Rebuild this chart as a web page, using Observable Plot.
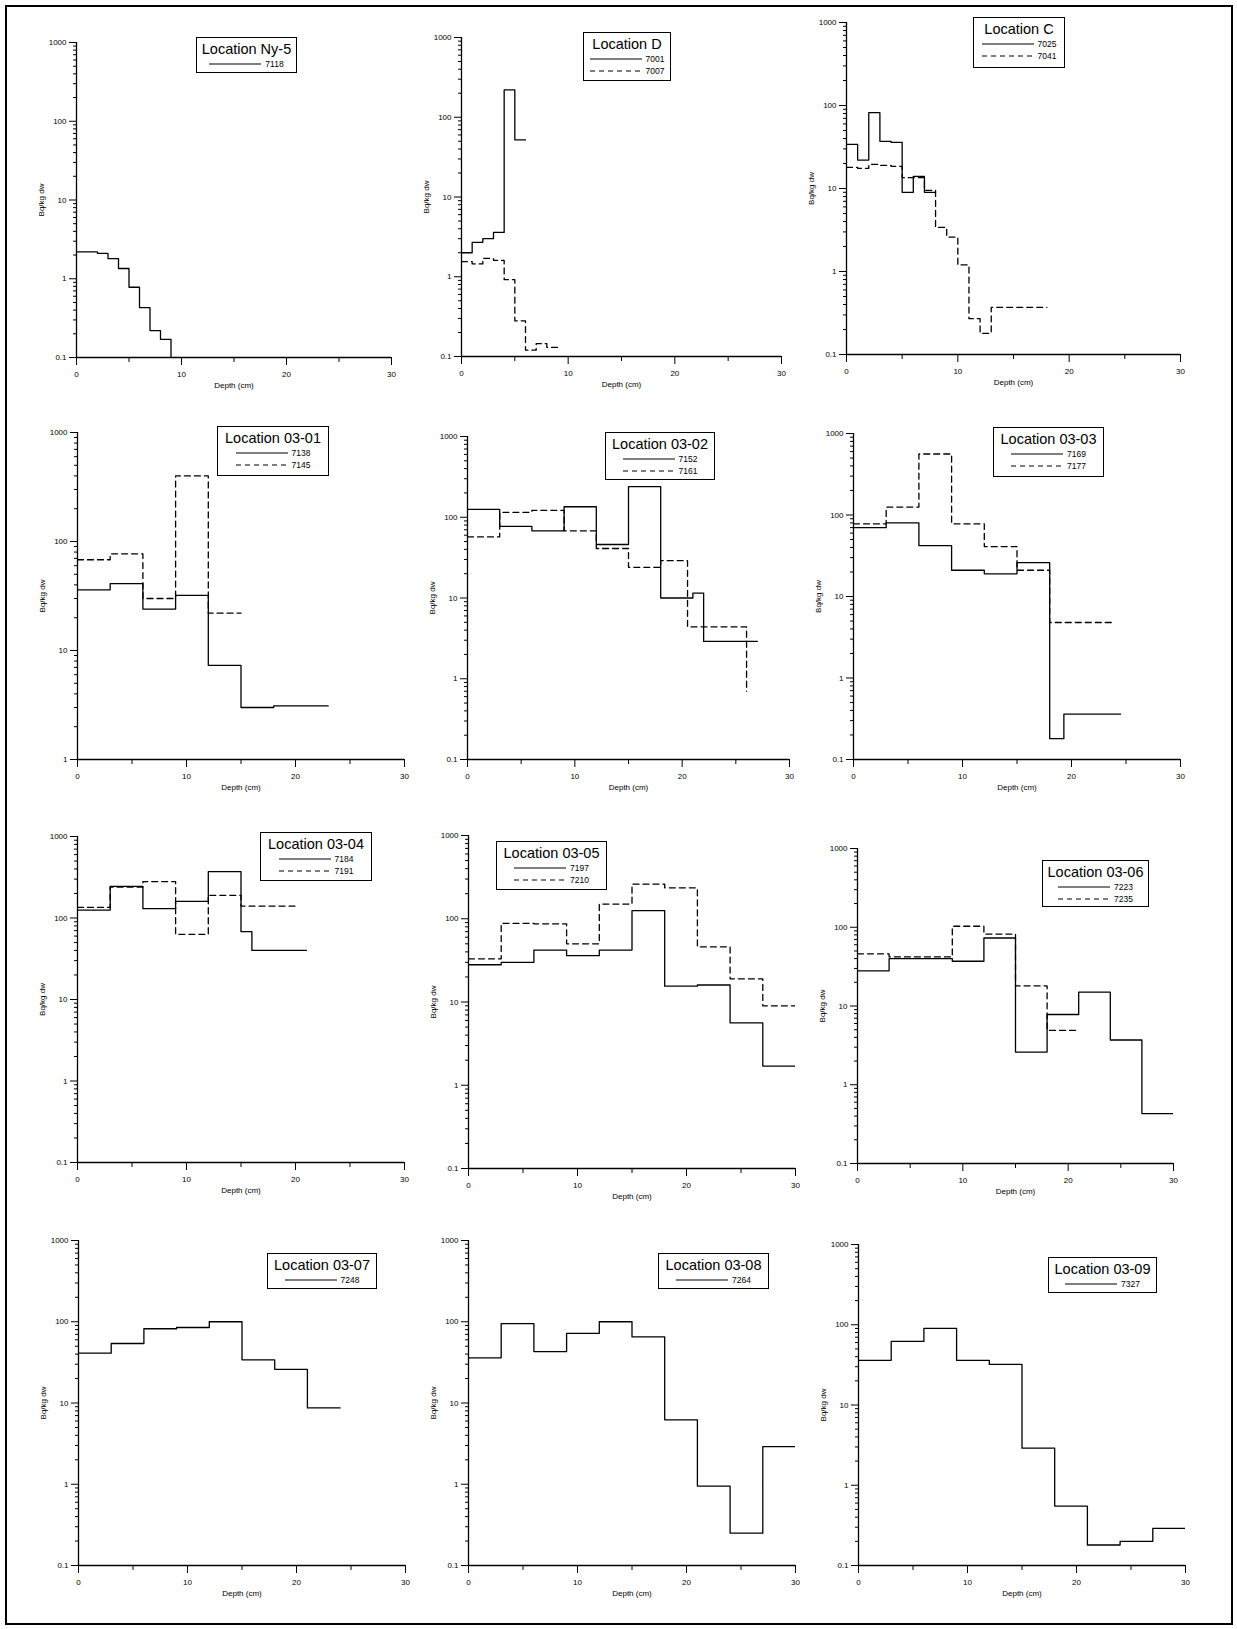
<!DOCTYPE html>
<html><head><meta charset="utf-8">
<script src="https://cdn.jsdelivr.net/npm/d3@7"></script>
<script src="https://cdn.jsdelivr.net/npm/@observablehq/plot@0.6"></script>
<style>
body{margin:0;background:#fff;font-family:"Liberation Sans",Arial,sans-serif;}
#wrap{position:relative;width:1237px;height:1629px;}
#frame{position:absolute;left:5px;top:5px;width:1224px;height:1616px;border:2px solid #000;}
.pn{position:absolute;}
.lg{position:absolute;border:1.3px solid #000;background:#fff;font-family:"Liberation Sans",Arial,sans-serif;padding:3px 2px;box-sizing:border-box;white-space:nowrap;overflow:visible;}
.lg .t{font-size:14.5px;text-align:center;line-height:17px;white-space:nowrap;}
.lg .r{font-size:8.5px;line-height:12px;display:flex;align-items:center;justify-content:center;gap:4px;}
</style></head><body>
<div id="wrap"><div id="frame"></div></div>
<script>
// ---- data: interval edges (cm) and values (Bq/kg dw) ----
const d7118 = [0,1,2,3,4,5,6,7,8,9];
const v7118 = [2.2,2.2,2.1,1.8,1.35,0.78,0.43,0.22,0.17,0.05];
const d7001 = [0,1,2,3,4,5,6];
const v7001 = [2.0,2.7,3.0,3.6,220,52];
const d7007 = [0,1,2,3,4,5,6,7,8,9];
const v7007 = [1.55,1.45,1.7,1.6,0.92,0.28,0.12,0.145,0.13];
const d7025 = [0,1,2,3,4,5,6,7,8];
const v7025 = [34,22,82,37,36,9,14,9];
const d7041 = [0,1,2,3,4,5,6,7,8,9,10,11,12,13,18];
const v7041 = [18,17.5,19.5,19,18.5,13.5,13.5,9.5,3.4,2.6,1.2,0.27,0.18,0.37];
const d7138 = [0,3,6,9,12,15,18,23];
const v7138 = [36,41,24,32,7.3,3.0,3.1];
const d7145 = [0,3,6,9,12,15];
const v7145 = [68,77,30,400,22];
const d7152 = [0,3,6,9,12,15,18,21,22,27];
const v7152 = [125,77,68,135,46,240,10,11.5,2.9];
const d7161 = [0,3,6,9,12,15,18,20.5,26];
const v7161 = [57,115,122,68,41,24,29,4.4,0.7];
const d7169 = [0,3,6,9,12,15,18,19.3,24.5];
const v7169 = [70,80,42,21,19,26,0.18,0.36];
const d7177 = [0,3,6,9,12,15,18,23.8];
const v7177 = [78,125,560,78,41,21,4.8];
const d7184 = [0,3,6,9,12,15,16,21];
const v7184 = [125,245,130,160,370,68,40];
const d7191 = [0,3,6,9,12,15,20];
const v7191 = [135,240,280,63,190,140];
const d7197 = [0,3,6,9,12,15,18,21,24,27,30];
const v7197 = [28,30,42,36,42,125,15.5,16,5.6,1.7];
const d7210 = [0,3,6,9,12,15,18,21,24,27,30];
const v7210 = [33,88,87,50,150,260,235,46,19,9];
const d7223 = [0,3,6,9,12,15,18,21,24,27,30];
const v7223 = [28,40,40,37,73,2.6,7.8,15,3.7,0.43];
const d7235 = [0,3,6,9,12,15,18,21];
const v7235 = [46,42,42,103,82,18,4.9];
const d7248 = [0,3,6,9,12,15,18,21,24];
const v7248 = [41,54,82,85,100,34,26,8.7];
const d7264 = [0,3,6,9,12,15,18,21,24,27,30];
const v7264 = [36,95,43,72,100,65,6.2,0.95,0.25,2.9];
const d7327 = [0,3,6,9,12,15,18,21,24,27,30];
const v7327 = [36,62,90,36,32,2.9,0.55,0.18,0.2,0.29];
const xTicksMajor = [0,10,20,30];
const xTicksMinor = [5,15,25];

// ---- panel layout: axis box [x0,x1,yTop,yBottom], legend [left,top,w,h] ----
const panels = [
 {title:"Location Ny-5", s:[["7118",d7118,v7118,false]], box:[76,391,42,357], ymin:0.1, lg:[196,37,101,36]},
 {title:"Location D", s:[["7001",d7001,v7001,false],["7007",d7007,v7007,true]], box:[461,781,37,356], ymin:0.1, lg:[583,32,88,49]},
 {title:"Location C", s:[["7025",d7025,v7025,false],["7041",d7041,v7041,true]], box:[846,1180,22,354], ymin:0.1, lg:[973,17,92,51]},
 {title:"Location 03-01", s:[["7138",d7138,v7138,false],["7145",d7145,v7145,true]], box:[77,404,432,759], ymin:1, lg:[217,426,112,50]},
 {title:"Location 03-02", s:[["7152",d7152,v7152,false],["7161",d7161,v7161,true]], box:[467,789,436,759], ymin:0.1, lg:[605,432,110,48]},
 {title:"Location 03-03", s:[["7169",d7169,v7169,false],["7177",d7177,v7177,true]], box:[853,1180,433,759], ymin:0.1, lg:[993,427,111,50]},
 {title:"Location 03-04", s:[["7184",d7184,v7184,false],["7191",d7191,v7191,true]], box:[77,404,836,1162], ymin:0.1, lg:[260,832,112,49]},
 {title:"Location 03-05", s:[["7197",d7197,v7197,false],["7210",d7210,v7210,true]], box:[468,795,835,1168], ymin:0.1, lg:[496,841,111,49]},
 {title:"Location 03-06", s:[["7223",d7223,v7223,false],["7235",d7235,v7235,true]], box:[857,1173,848,1163], ymin:0.1, lg:[1042,860,107,47]},
 {title:"Location 03-07", s:[["7248",d7248,v7248,false]], box:[78,405,1240,1565], ymin:0.1, lg:[267,1253,110,36]},
 {title:"Location 03-08", s:[["7264",d7264,v7264,false]], box:[468,795,1240,1565], ymin:0.1, lg:[658,1253,111,36]},
 {title:"Location 03-09", s:[["7327",d7327,v7327,false]], box:[858,1185,1244,1565], ymin:0.1, lg:[1048,1257,109,36]}
];

const wrap = document.getElementById("wrap");
const mL=45, mR=12, mT=8, mB=36;
panels.forEach((p)=>{
  const [x0,x1,y0,y1] = p.box;
  const W = x1-x0, H = y1-y0;
  const decades = p.ymin===1 ? [1,10,100,1000] : [0.1,1,10,100,1000];
  const minors = [];
  decades.slice(0,-1).forEach(d=>{for(let k=2;k<=9;k++) minors.push(d*k);});
  const marks = [];
  p.s.forEach(([name,ed,vals,dash])=>{
    const pts = [];
    for(let j=0;j<ed.length-1;j++) pts.push({x:ed[j],y:vals[j]});
    const last = ed.length-1;
    pts.push({x:ed[last], y: vals.length===ed.length ? vals[last] : vals[last-1]});
    marks.push(Plot.line(pts,{x:"x",y:"y",curve:"step-after",stroke:"#000",strokeWidth:1.3,
      strokeDasharray: dash ? "6,4" : null, clip:true}));
  });
  marks.push(Plot.axisY({ticks:minors, tickFormat:()=>"", tickSize:3, label:null}));
  marks.push(Plot.axisY({ticks:decades, tickFormat:d=>String(d), tickSize:7, fontSize:8,
    label:"Bq/kg dw", labelAnchor:"center", labelArrow:"none", labelOffset:38}));
  marks.push(Plot.axisX({ticks:xTicksMinor, tickFormat:()=>"", tickSize:5, label:null}));
  marks.push(Plot.axisX({ticks:xTicksMajor, tickFormat:d=>String(d), tickSize:8, fontSize:8, tickPadding:6,
    label:"Depth (cm)", labelAnchor:"center", labelArrow:"none", labelOffset:30}));
  marks.push(Plot.ruleX([0],{stroke:"#000",strokeWidth:1.3}));
  marks.push(Plot.ruleY([p.ymin],{stroke:"#000",strokeWidth:1.3}));
  const svg = Plot.plot({
    width: W+mL+mR, height: H+mT+mB,
    marginLeft:mL, marginRight:mR, marginTop:mT, marginBottom:mB,
    style:{fontFamily:"'Liberation Sans',Arial,sans-serif",fontSize:"8px",color:"#000",background:"transparent"},
    x:{domain:[0,30]},
    y:{type:"log", domain:[p.ymin,1000]},
    marks
  });
  svg.classList.add("pn");
  svg.style.left = (x0-mL)+"px"; svg.style.top = (y0-mT)+"px";
  wrap.appendChild(svg);
  const [lx,ly,lw,lh] = p.lg;
  const lg = document.createElement("div");
  lg.className="lg";
  lg.style.left=lx+"px"; lg.style.top=ly+"px"; lg.style.width=lw+"px"; lg.style.height=lh+"px";
  let html = `<div class="t">${p.title}</div>`;
  p.s.forEach(([name,,,dash])=>{
    html += `<div class="r"><svg width="52" height="6"><line x1="0" y1="3" x2="52" y2="3" stroke="#000" stroke-width="1.2" ${dash?'stroke-dasharray="5,4"':''}/></svg><span>${name}</span></div>`;
  });
  lg.innerHTML = html;
  wrap.appendChild(lg);
});
</script>
</body></html>
